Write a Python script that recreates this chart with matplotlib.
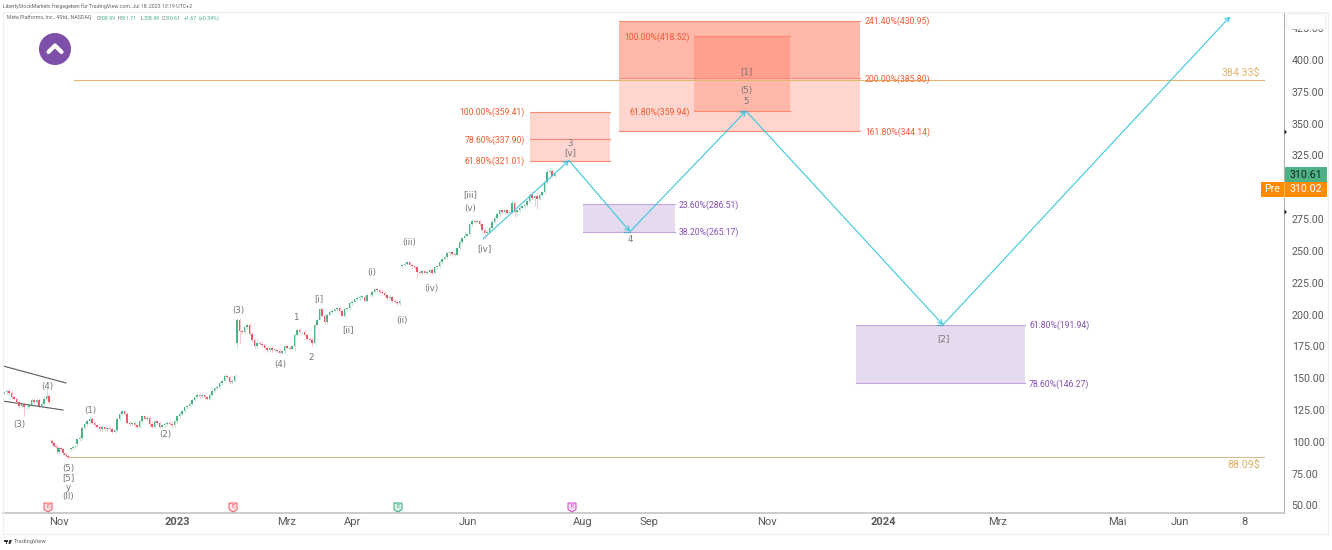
import matplotlib
matplotlib.use("Agg")
import matplotlib.pyplot as plt
from matplotlib.patches import Circle, Rectangle, FancyBboxPatch, Polygon

plt.rcParams['font.family'] = ['Roboto', 'DejaVu Sans']

# ---------- data (x is the chart's bar-position scale, y is price in USD) ----------
seg_a_x0, seg_a_open = 4, 138
seg_a_close = [139, 140, 138.5, 135, 134, 131, 128, 130, 127, 127, 129, 133, 131, 133, 128, 130, 134, 136, 131]
seg_b_x0, seg_b_open = 52, 101
seg_b_close = [99, 97, 96, 92, 95, 94, 91, 90, 89, 88]
seg_c_x0, seg_c_open = 71, 94
seg_c_close = [95, 96, 96.5]
seg_d_x0, seg_d_open = 77, 98
seg_d_close = [102, 103, 111, 114, 116, 118, 115, 113, 112, 110, 112, 110, 111, 110, 108, 109, 118, 122, 124, 122,
               115, 114, 115, 113, 112, 116, 120, 118, 119, 114, 112, 116, 115, 112, 113, 114, 115, 114, 113, 116,
               120, 122, 124, 127, 128, 130, 133, 135, 137, 136, 137, 135, 134, 137, 140, 142, 143, 146, 148, 152,
               151, 147, 148, 152]
seg_e_x0, seg_e_open = 237, 178
seg_e_close = [196, 187, 186, 190, 192, 185, 180, 175, 178, 177, 176, 174, 172, 174, 172, 172, 171, 170, 171, 175,
               174, 173, 175, 184, 188, 186, 186, 184, 181, 180, 178, 192, 196, 204, 199, 194, 200, 202, 203, 204,
               205, 203, 199, 204, 205, 209, 210, 212, 213, 214, 214, 211, 215, 215, 218, 220, 219, 218, 217, 215,
               213, 214, 211, 210, 209, 211]
seg_f_x0, seg_f_open = 402, 238
seg_f_close = [239, 240, 241, 239, 238, 237, 233.5, 233, 234, 233, 233.5, 235, 233, 237, 238, 241, 244, 245, 248, 249,
               247.5, 247, 252, 257, 260, 262, 263, 271, 273.5, 273, 273.5, 271, 266.5, 264, 265, 268, 273, 276, 279,
               282, 280.5, 282, 280, 280.5, 288, 280.5, 282, 284, 285, 286, 289, 294, 291.5, 293, 291, 294, 296, 304,
               312, 313, 309, 310.61]
bar_step = 2.5
seg_b_step = 1.8
seg_c_step = 2.2
default_wick = 1.2
long_highs = {46.5: 142, 239.5: 197, 257: 181, 279.5: 173, 304.5: 189, 339.5: 207, 464.5: 266, 512: 290, 532: 297,
              537: 296, 549.5: 315}
long_lows = {24: 120, 237: 174, 239.5: 178, 294.5: 171, 319.5: 196, 312: 175, 417: 229, 457: 249, 484.5: 259,
             514.5: 277, 534.5: 285, 537: 283}

support_prices = [384.33, 88.09]
support_labels = ["384.33$", "88.09$"]
support_x0 = [74, 68]
support_x1 = 1264
support_colors = ["#E3B76F", "#D8BC8C"]

trend_top_x, trend_top_p = [3, 66], [159.6, 146.2]
trend_bot_x, trend_bot_p = [3, 63], [132, 125]

path_x = [483, 569, 630, 746, 943, 1230]
path_p = [259.4, 321.01, 265.17, 359.94, 191.94, 434]

red_boxes = [(530, 610, 321.01, 359.41), (619, 860, 344.14, 430.95), (619, 860, 385.80, 430.95), (694, 790, 359.94, 418.52)]
red_lines = [(530, 610, 359.41), (530, 610, 337.90), (530, 610, 321.01),
             (619, 860, 430.95), (619, 860, 385.80), (619, 860, 344.14),
             (694, 790, 418.52), (694, 790, 359.94)]
purple_boxes = [(583, 675, 265.17, 286.51), (856, 1025, 146.27, 191.94)]
red_labels_r = [(525, 359.41, "100.00%(359.41)"), (525, 337.90, "78.60%(337.90)"), (525, 321.01, "61.80%(321.01)"),
                (690, 418.52, "100.00%(418.52)"), (690, 359.94, "61.80%(359.94)")]
red_labels_l = [(865, 430.95, "241.40%(430.95)"), (865, 385.80, "200.00%(385.80)"), (865, 344.14, "161.80%(344.14)")]
purple_labels = [(679, 286.51, "23.60%(286.51)"), (679, 265.17, "38.20%(265.17)"),
                 (1029, 191.94, "61.80%(191.94)"), (1029, 146.27, "78.60%(146.27)")]

xtick_pos = [59, 177, 287, 352, 468, 583, 649, 767, 883, 998, 1117, 1180, 1245]
xtick_lab = ["Nov", "2023", "Mrz", "Apr", "Jun", "Aug", "Sep", "Nov", "2024", "Mrz", "Mai", "Jun", "8"]
ytick_vals = [50, 75, 100, 125, 150, 175, 200, 225, 250, 275, 300, 325, 350, 375, 400, 425]

wave_labels = [("(3)", 19, 424), ("(4)", 47, 386), ("(1)", 90, 410), ("(2)", 165, 435), ("(5)", 68, 468), ("[5]", 68, 478),
               ("y", 68, 487), ("(II)", 68, 497), ("(3)", 238, 311), ("(4)", 280, 365), ("1", 296, 318), ("2", 311, 358),
               ("[i]", 319, 299), ("[ii]", 348, 330), ("(i)", 372, 272), ("(ii)", 402, 321), ("(iii)", 409, 242),
               ("(iv)", 431, 288), ("[iii]", 470, 195), ("(v)", 470, 208), ("[iv]", 484, 249), ("3", 570, 144),
               ("[v]", 570, 153), ("4", 630, 240), ("[1]", 746, 72), ("(5)", 746, 90), ("5", 746, 101), ("[2]", 943, 339)]
earn_x = [48, 233, 398, 572]
earn_col = ["#F0505A", "#F0505A", "#2EA67A", "#D040D0"]
earn_fill = ["#FDE4E6", "#FDE4E6", "#DFF3EA", "#F8E2F8"]

# ---------- figure ----------
GREEN, RED = "#4CB385", "#F0566A"
W, H = 1332, 550
fig = plt.figure(figsize=(W / 100, H / 100), dpi=100, facecolor="white")
L, R, T, B = 3, 1284, 12, 513
ax = fig.add_axes([L / W, 1 - B / H, (R - L) / W, (B - T) / H])
ax.set_xlim(L, R)
ax.set_ylim(44.06, 437.7)
ax.set_facecolor("white")
for s in ["top", "left"]:
    ax.spines[s].set_visible(False)
ax.spines["right"].set_color("#B0B0B0")
ax.spines["bottom"].set_color("#C4C4C4")
ax.spines["bottom"].set_linewidth(1.2)
ax.yaxis.tick_right()
ax.set_yticks(ytick_vals)
ax.set_yticklabels(["%.2f" % v for v in ytick_vals], fontsize=7.7, color="#5A5A5A")
ax.set_xticks(xtick_pos)
ax.set_xticklabels(xtick_lab, fontsize=8, color="#5A5A5A")
for lab, txt in zip(ax.get_xticklabels(), xtick_lab):
    if txt in ("2023", "2024"):
        lab.set_fontweight("bold")
ax.tick_params(axis="both", length=0)
ax.tick_params(axis="y", pad=5.5)
ax.tick_params(axis="x", pad=3)

LABEL_FS = 6.2
LABEL_DROP = 0.7
# fib zones
for x0, x1, p0, p1 in red_boxes:
    ax.fill_between([x0, x1], p0, p1, color="#FF5030", alpha=0.23, lw=0, zorder=1)
for x0, x1, p in red_lines:
    ax.plot([x0, x1], [p, p], color="#FF8A72", lw=0.8, zorder=1.5)
for x0, x1, p0, p1 in purple_boxes:
    ax.fill_between([x0, x1], p0, p1, color="#E6DAEF", lw=0, zorder=1)
    ax.plot([x0, x1], [p0, p0], color="#C3A6DC", lw=0.8, zorder=1.5)
    ax.plot([x0, x1], [p1, p1], color="#C3A6DC", lw=0.8, zorder=1.5)
for x, p, t in red_labels_r:
    ax.text(x, p - LABEL_DROP, t, color="#F4592F", fontsize=LABEL_FS, ha="right", va="center", zorder=6)
for x, p, t in red_labels_l:
    ax.text(x, p - LABEL_DROP, t, color="#F4592F", fontsize=LABEL_FS, ha="left", va="center", zorder=6)
for x, p, t in purple_labels:
    ax.text(x, p - LABEL_DROP, t, color="#8450B0", fontsize=LABEL_FS, ha="left", va="center", zorder=6)

# support lines
for p, t, x0, c in zip(support_prices, support_labels, support_x0, support_colors):
    ax.plot([x0, support_x1], [p, p], color=c, lw=0.8, zorder=2)
ax.text(1260, 390, support_labels[0], color="#E3B76F", fontsize=7.7, ha="right", va="center")
ax.text(1260, 81.5, support_labels[1], color="#DDB060", fontsize=7.7, ha="right", va="center")

# trend lines
ax.plot(trend_top_x, trend_top_p, color="#555A60", lw=0.8, zorder=3)
ax.plot(trend_bot_x, trend_bot_p, color="#555A60", lw=0.8, zorder=3)

# candles
def draw_candles(x0, step, first_open, closes):
    prev = first_open
    for i, c in enumerate(closes):
        x = x0 + step * i
        col = GREEN if c >= prev else RED
        hi = long_highs.get(x, max(prev, c) + default_wick)
        lo = long_lows.get(x, min(prev, c) - default_wick)
        ax.vlines(x, lo, hi, color=col, lw=0.5, alpha=0.5, zorder=4)
        ax.bar(x, max(abs(c - prev), 0.6), bottom=min(prev, c), width=1.6, color=col, lw=0, zorder=4)
        prev = c

draw_candles(seg_a_x0, bar_step, seg_a_open, seg_a_close)
draw_candles(seg_b_x0, seg_b_step, seg_b_open, seg_b_close)
draw_candles(seg_c_x0, seg_c_step, seg_c_open, seg_c_close)
draw_candles(seg_d_x0, bar_step, seg_d_open, seg_d_close)
draw_candles(seg_e_x0, bar_step, seg_e_open, seg_e_close)
draw_candles(seg_f_x0, bar_step, seg_f_open, seg_f_close)

# projected path
CY = "#3CC8DE"
for i in range(1, len(path_x)):
    ax.annotate("", xy=(path_x[i], path_p[i]), xytext=(path_x[i - 1], path_p[i - 1]),
                arrowprops=dict(arrowstyle="->,head_length=0.3,head_width=0.17", color=CY, lw=0.8, shrinkA=0, shrinkB=0),
                zorder=5)
for i in range(1, len(path_x) - 1):
    ax.plot([path_x[i] - 6, path_x[i]], [path_p[i], path_p[i]], color="#5AA8C8", lw=0.9, zorder=5)

# overlay in picture pixels for the chrome and the wave labels
ov = fig.add_axes([0, 0, 1, 1], zorder=10)
ov.set_xlim(0, W)
ov.set_ylim(H, 0)
ov.axis("off")
ov.patch.set_alpha(0)

for t, x, y in wave_labels:
    ov.text(x, y, t, color="#747474", fontsize=6.2, family=["DejaVu Sans"], ha="center", va="center")

# frame
ov.plot([3, 3, 1328, 1328], [534, 11.5, 11.5, 534], color="#ECEEF2", lw=0.8)
ov.plot([3, 1328], [534, 534], color="#ECEEF2", lw=0.8)

# header
SMALL = 3.8
ov.text(3, 6, "LibertyStockMarkets freigegeben für TradingView.com, Jul 18, 2023 13:19 UTC+2", fontsize=SMALL, color="#666666", va="center")
ov.text(7, 18, "Meta Platforms, Inc., 4Std., NASDAQ", fontsize=SMALL, color="#666666", va="center")
for x, t, c in [(96.5, "O", "#666666"), (100, "308.99", GREEN), (118, "H", "#666666"), (121, "311.71", GREEN),
                (141, "L", "#666666"), (144, "308.49", GREEN), (162, "C", "#666666"), (165, "310.61", GREEN),
                (184, "+1.67", GREEN), (199, "(+0.54%)", GREEN)]:
    ov.text(x, 18, t, fontsize=SMALL, color=c, va="center")

# logo
ov.add_patch(Circle((55, 49), 16, color="#7E4FA9", lw=0))
ov.plot([48.5, 55, 61.5], [52, 45.5, 52], color="white", lw=3, solid_capstyle="round", solid_joinstyle="round")

# price tags
ov.add_patch(FancyBboxPatch((1287, 14), 39, 15, boxstyle="round,pad=0,rounding_size=1.5", fc="white", ec="#EEF0F3", lw=0.7))
ov.add_patch(Rectangle((1284.5, 167), 42, 15, fc="#4FB286", lw=0))
ov.text(1322, 174.5, "310.61", color="#13261E", fontsize=7.7, ha="right", va="center")
ov.add_patch(Rectangle((1261, 182), 66, 15, fc="#FF8C00", lw=0))
ov.plot([1284, 1284], [182, 197], color="#FFB566", lw=0.8)
ov.text(1272.5, 189.5, "Pre", color="white", fontsize=7.7, ha="center", va="center")
ov.text(1322, 189.5, "310.02", color="white", fontsize=7.7, ha="right", va="center")
for y in [132, 212]:
    ov.add_patch(Polygon([(1284.5, y - 2.5), (1287, y), (1284.5, y + 2.5)], fc="#1E222D", lw=0))

# earnings flags
for x, c, f in zip(earn_x, earn_col, earn_fill):
    ov.add_patch(Polygon([(x - 4, 503), (x + 4, 503), (x + 4, 509.5), (x, 512), (x - 4, 509.5)], fc=f, ec=c, lw=0.7))
    ov.text(x, 507, "E", color=c, fontsize=4.2, ha="center", va="center")

# footer
ov.add_patch(Rectangle((3.5, 540), 4, 1.6, fc="#333333", lw=0))
ov.add_patch(Rectangle((5.5, 540), 1.8, 4, fc="#333333", lw=0))
ov.add_patch(Polygon([(9.2, 540), (12, 540), (10.3, 544), (8.5, 544)], fc="#333333", lw=0))
ov.text(14, 542, "TradingView", fontsize=4.2, color="#666666", va="center")

fig.savefig("out.png", dpi=100, facecolor="white")
